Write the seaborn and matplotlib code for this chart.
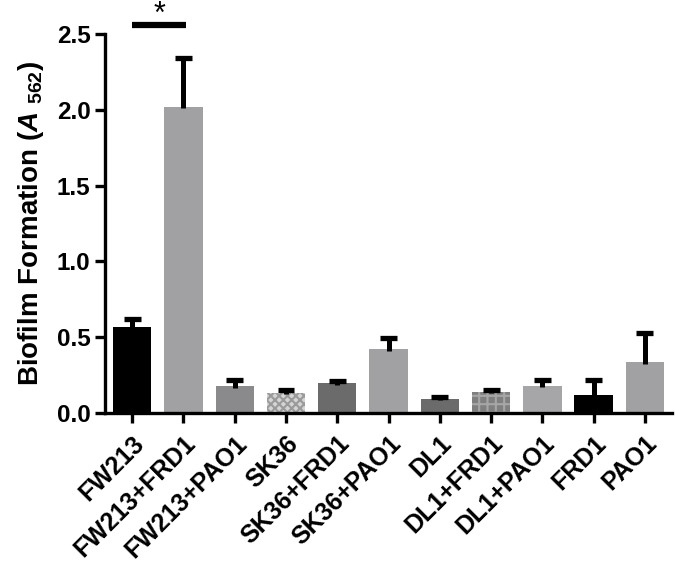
import matplotlib
matplotlib.use("Agg")
import matplotlib.pyplot as plt
import seaborn as sns
import pandas as pd
import numpy as np

categories = ["FW213", "FW213+FRD1", "FW213+PAO1", "SK36", "SK36+FRD1", "SK36+PAO1",
              "DL1", "DL1+FRD1", "DL1+PAO1", "FRD1", "PAO1"]
means = [0.57, 2.02, 0.175, 0.135, 0.195, 0.42, 0.095, 0.14, 0.18, 0.12, 0.335]
errors = [0.05, 0.32, 0.04, 0.02, 0.015, 0.075, 0.008, 0.015, 0.035, 0.10, 0.19]
colors = ["#000000", "#a1a1a4", "#8a8a8c", "#d4d4d4", "#6b6b6b", "#a1a1a4",
          "#6b6b6b", "#7f7f7f", "#a6a6a8", "#000000", "#a1a1a4"]
hatches = ["", "", "", "xxxx", "", "", "", "++", "", "", ""]
hatch_colors = ["none", "none", "none", "#9a9a9a", "none", "none", "none", "#a6a6a6", "none", "none", "none"]

sns.set_style("white")
plt.rcParams['font.family'] = ['Liberation Sans', 'DejaVu Sans']
plt.rcParams['font.weight'] = 'bold'
plt.rcParams['text.color'] = 'black'
plt.rcParams['axes.labelcolor'] = 'black'
plt.rcParams['xtick.color'] = 'black'
plt.rcParams['ytick.color'] = 'black'
plt.rcParams['mathtext.fontset'] = 'custom'
plt.rcParams['mathtext.rm'] = 'Liberation Sans:bold'
plt.rcParams['mathtext.it'] = 'Liberation Sans:italic:bold'
plt.rcParams['mathtext.bf'] = 'Liberation Sans:bold'
plt.rcParams['hatch.linewidth'] = 1.5

df = pd.DataFrame({"group": categories, "value": means})

fig = plt.figure(figsize=(6.75, 5.63), dpi=100)
ax = fig.add_axes([0.1556, 0.2664, 0.84, 0.673])

sns.barplot(data=df, x="group", y="value", hue="group", palette=colors, legend=False,
            errorbar=None, width=0.75, ax=ax, saturation=1, edgecolor="none")

for i, p in enumerate(ax.patches):
    if hatches[i]:
        p.set_hatch(hatches[i])
        p.set_edgecolor(hatch_colors[i])
        p.set_linewidth(0)

x = np.arange(len(categories))
m = np.array(means)
e = np.array(errors)
cap_half = 0.165
ax.vlines(x, m - 0.01, m + e, color="black", linewidth=3.6, zorder=5)
ax.hlines(m + e, x - cap_half, x + cap_half, color="black", linewidth=3.8, zorder=5)

ax.set_xlim(-0.53, 10.53)
ax.set_ylim(0, 2.5)
ax.set_yticks([0.0, 0.5, 1.0, 1.5, 2.0, 2.5])
ax.set_yticklabels(["0.0", "0.5", "1.0", "1.5", "2.0", "2.5"])
ax.set_xlabel("")
ax.set_ylabel(r"Biofilm Formation ($\mathit{A}$ $_{562}$)", fontsize=20, fontweight='bold',
              labelpad=8, color='black')

for side in ["top", "right"]:
    ax.spines[side].set_visible(False)
for side in ["left", "bottom"]:
    ax.spines[side].set_linewidth(2.4)
    ax.spines[side].set_color("black")

ax.tick_params(axis="both", direction="out", length=7, width=2.4, color="black",
               labelcolor="black", bottom=True, left=True)
ax.tick_params(axis="y", labelsize=17.5)
ax.tick_params(axis="x", labelsize=18, pad=6)
ax.set_xticks(x)
ax.set_xticklabels(categories, rotation=45, ha="right", rotation_mode="anchor", fontweight='bold')
for lab in ax.get_yticklabels():
    lab.set_fontweight('bold')

# significance marker
ax.plot([0, 1.05], [2.558, 2.558], color="black", linewidth=4.5, clip_on=False, solid_capstyle="butt")
fig.text(160 / 675, 1.0, "*", ha="center", va="top", fontsize=22, fontweight='normal', color='black')

fig.savefig("out.png", dpi=100)
